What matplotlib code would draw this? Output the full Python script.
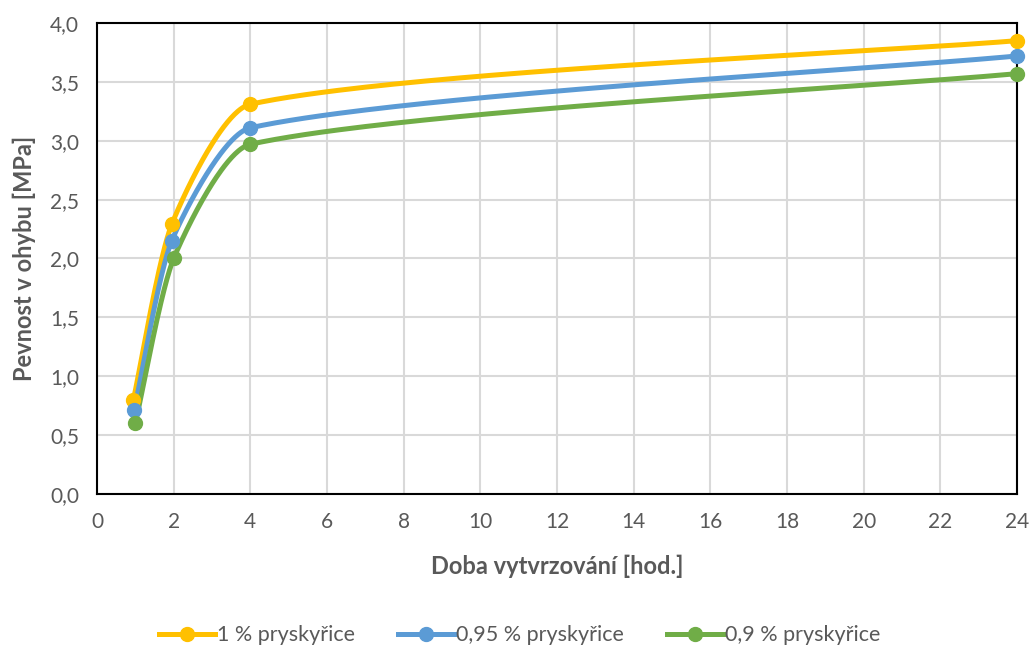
import matplotlib
matplotlib.use('Agg')
import matplotlib.pyplot as plt
import numpy as np

plt.rcParams['font.family'] = ['Lato', 'DejaVu Sans']

# data
x_1 = [0.95, 1.95, 4, 24]
y_1 = [0.80, 2.29, 3.31, 3.85]
x_095 = [0.97, 1.95, 4, 24]
y_095 = [0.71, 2.15, 3.11, 3.72]
x_09 = [1.0, 2.0, 4, 24]
y_09 = [0.60, 2.00, 2.97, 3.57]
labels = ['1 % pryskyřice', '0,95 % pryskyřice', '0,9 % pryskyřice']
colors = ['#FFC000', '#5B9BD5', '#70AD47']

SX, SY = 38.33, 117.75  # px per unit, for the smoothing only


def smooth(xs, ys, n=80):
    # smoothed line like Excel: bezier, tangent from neighbours, length from the segment
    p = np.column_stack([np.array(xs) * SX, np.array(ys) * SY])
    m = len(p)
    tang = []
    for i in range(m):
        a = p[max(i - 1, 0)]
        b = p[min(i + 1, m - 1)]
        d = b - a
        tang.append(d / np.linalg.norm(d))
    out = []
    for i in range(m - 1):
        p1, p2 = p[i], p[i + 1]
        L = np.linalg.norm(p2 - p1)
        c1 = p1 + tang[i] * L / 5
        c2 = p2 - tang[i + 1] * L / 5
        t = np.linspace(0, 1, n)[:, None]
        seg = (1 - t)**3 * p1 + 3 * (1 - t)**2 * t * c1 + 3 * (1 - t) * t**2 * c2 + t**3 * p2
        out.append(seg)
    s = np.vstack(out)
    return s[:, 0] / SX, s[:, 1] / SY


fig = plt.figure(figsize=(10.33, 6.48), dpi=100)
ax = fig.add_axes([0.0939, 0.2377, 0.8906, 0.7268])

series = [(x_1, y_1), (x_095, y_095), (x_09, y_09)]
for (xs, ys), lab, c in zip(series, labels, colors):
    sx, sy = smooth(xs, ys)
    ax.plot(sx, sy, color=c, lw=3.6, solid_capstyle='round', zorder=3, clip_on=False)
    ax.plot(xs, ys, 'o', color=c, ms=10, zorder=4, clip_on=False)
    ax.plot([], [], '-o', color=c, lw=3.6, ms=10, label=lab)

ax.set_xlim(0, 24)
ax.set_ylim(0, 4)
ax.set_xticks(range(0, 25, 2))
ax.set_yticks(np.arange(0, 4.01, 0.5))
ax.set_yticklabels([f'{v:.1f}'.replace('.', ',') for v in np.arange(0, 4.01, 0.5)])
ax.grid(True, color='#d9d9d9', lw=1.5)
ax.set_axisbelow(True)
for sp in ax.spines.values():
    sp.set_color('black')
    sp.set_linewidth(1.5)
ax.tick_params(length=0, labelsize=15, labelcolor='#595959', pad=13)

ax.set_xlabel('Doba vytvrzování [hod.]', fontsize=17, fontweight='bold', color='#595959', labelpad=16)
ax.set_ylabel('Pevnost v ohybu [MPa]', fontsize=17, fontweight='bold', color='#595959', labelpad=10)

leg = fig.legend(loc='center', bbox_to_anchor=(0.503, 0.02), ncol=3, frameon=False,
                 fontsize=15.5, handlelength=2.6, handletextpad=0.1, columnspacing=2.0)
for t in leg.get_texts():
    t.set_color('#595959')

fig.savefig('out.png', dpi=100)
